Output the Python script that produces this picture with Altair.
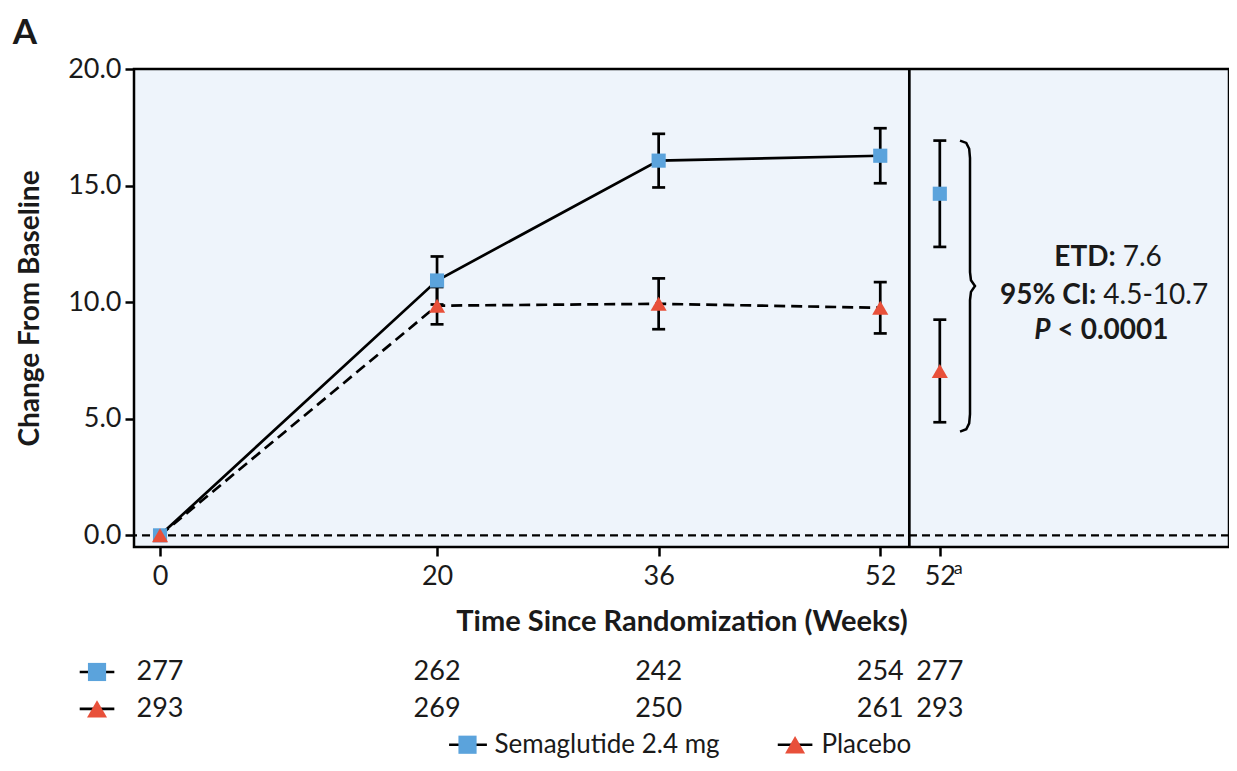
import altair as alt
import pandas as pd

# ---- data ----
weeks = [0, 20, 36, 52]
sema_mean = [0.0, 10.93, 16.07, 16.28]
sema_err = [0.0, 1.03, 1.15, 1.18]
plac_mean = [0.0, 9.85, 9.93, 9.76]
plac_err = [0.0, 0.80, 1.09, 1.10]

wk52a = 56.3
sema_52a_mean = 14.65
sema_52a_err = 2.28
plac_52a_mean = 7.05
plac_52a_err = 2.20

tick_values = [0, 20, 36, 52, 56.3]
sema_n = [277, 262, 242, 254, 277]
plac_n = [293, 269, 250, 261, 293]

BLUE = "#5BA3DC"
RED = "#E8503A"
INK = "#1a1a1a"
FONT = "Lato"

# ---- tables ----
lines = pd.DataFrame(
    [{"x": w, "y": m, "g": "Semaglutide 2.4 mg"} for w, m in zip(weeks, sema_mean)]
    + [{"x": w, "y": m, "g": "Placebo"} for w, m in zip(weeks, plac_mean)]
)

err_rows = []
for w, m, e in zip(weeks, sema_mean, sema_err):
    if e > 0:
        err_rows.append({"x": w, "lo": m - e, "hi": m + e})
for w, m, e in zip(weeks, plac_mean, plac_err):
    if e > 0:
        err_rows.append({"x": w, "lo": m - e, "hi": m + e})
err_rows.append({"x": wk52a, "lo": sema_52a_mean - sema_52a_err, "hi": sema_52a_mean + sema_52a_err})
err_rows.append({"x": wk52a, "lo": plac_52a_mean - plac_52a_err, "hi": plac_52a_mean + plac_52a_err})
errs = pd.DataFrame(err_rows)
caps = pd.concat([errs.assign(y=errs["lo"]), errs.assign(y=errs["hi"])])

sema_pts = pd.DataFrame({"x": weeks + [wk52a], "y": sema_mean + [sema_52a_mean]})
plac_pts = pd.DataFrame({"x": weeks + [wk52a], "y": plac_mean + [plac_52a_mean]})

# brace spanning the two 52a estimates
b_top = sema_52a_mean + sema_52a_err
b_bot = plac_52a_mean - plac_52a_err - 0.4
b_mid = (b_top + b_bot) / 2
bx0, bx1, bx2 = 57.76, 58.48, 58.84
brace = pd.DataFrame({
    "x": [bx0, bx0 + 0.45, bx1 - 0.06, bx1, bx1, bx1 + 0.07, bx2, bx1 + 0.07, bx1, bx1, bx1 - 0.06, bx0 + 0.45, bx0],
    "y": [b_top, b_top - 0.1, b_top - 0.35, b_top - 0.75, b_mid + 0.6, b_mid + 0.25, b_mid,
          b_mid - 0.25, b_mid - 0.6, b_bot + 0.75, b_bot + 0.35, b_bot + 0.1, b_bot],
})
brace["o"] = range(len(brace))

# ---- shared encodings ----
X = alt.X(
    "x:Q",
    scale=alt.Scale(domain=[-1.88, 77.18], nice=False, zero=False),
    axis=alt.Axis(
        values=tick_values,
        labelExpr="datum.value == 56.3 ? '52' : format(datum.value, 'd')",
        title="Time Since Randomization (Weeks)",
        titlePadding=18,
        labelPadding=7,
        tickSize=9,
    ),
)
Y = alt.Y(
    "y:Q",
    scale=alt.Scale(domain=[-0.5, 20], nice=False, zero=False),
    axis=alt.Axis(
        values=[0, 5, 10, 15, 20],
        format=".1f",
        title="Change From Baseline",
        titlePadding=23,
        titleFontSize=28,
        labelPadding=4,
        tickSize=9,
    ),
)

zero_line = alt.Chart(pd.DataFrame({"y": [0]})).mark_rule(
    color="black", strokeWidth=2.3, strokeDash=[8, 5]
).encode(y=Y)

separator = alt.Chart(pd.DataFrame({"x": [54.1]})).mark_rule(
    color="black", strokeWidth=2.7
).encode(x=X)

sema_line = alt.Chart(lines[lines.g == "Semaglutide 2.4 mg"]).mark_line(
    color="black", strokeWidth=2.7
).encode(x=X, y=Y, order="x:Q")
plac_line = alt.Chart(lines[lines.g == "Placebo"]).mark_line(
    color="black", strokeWidth=2.7, strokeDash=[11, 6]
).encode(x=X, y=Y, order="x:Q")

err_v = alt.Chart(errs).mark_rule(color="black", strokeWidth=2.7).encode(
    x=X, y=alt.Y("lo:Q", scale=alt.Scale(domain=[-0.5, 20], nice=False, zero=False)), y2="hi:Q"
)
err_c = alt.Chart(caps).mark_rule(color="black", strokeWidth=2.7, xOffset=-6.5, x2Offset=6.5).encode(
    x=X, x2=alt.X2("x:Q"), y=Y
)

sema_marks = alt.Chart(sema_pts).mark_point(
    shape="square", filled=True, color=BLUE, size=200, opacity=1
).encode(x=X, y=Y)
plac_marks = alt.Chart(plac_pts).mark_point(
    shape="triangle-up", filled=True, color=RED, size=260, opacity=1
).encode(x=X, y=Y)

brace_line = alt.Chart(brace).mark_line(color="black", strokeWidth=2.5).encode(
    x=X, y=Y, order="o:Q"
)

# annotation text (mixed weights)
ann = pd.DataFrame([
    {"x": 69.0, "y": 11.89, "t": "ETD:", "w": "bold", "s": "normal", "a": "right", "dx": 0},
    {"x": 69.0, "y": 11.89, "t": "7.6", "w": "normal", "s": "normal", "a": "left", "dx": 7},
    {"x": 67.6, "y": 10.26, "t": "95% CI:", "w": "bold", "s": "normal", "a": "right", "dx": 0},
    {"x": 67.6, "y": 10.26, "t": "4.5-10.7", "w": "normal", "s": "normal", "a": "left", "dx": 7},
    {"x": 64.3, "y": 8.76, "t": "P", "w": "bold", "s": "italic", "a": "right", "dx": 0},
    {"x": 64.3, "y": 8.76, "t": "< 0.0001", "w": "bold", "s": "normal", "a": "left", "dx": 7},
])
ann_layers = []
for _, r in ann.iterrows():
    ann_layers.append(
        alt.Chart(pd.DataFrame([r])).mark_text(
            font=FONT, fontSize=28, fontWeight=r["w"], fontStyle=r["s"],
            align=r["a"], baseline="middle", dx=int(r["dx"]), color=INK,
        ).encode(x=X, y=Y, text="t:N")
    )

# superscript on the 52a tick label
sup = alt.Chart(pd.DataFrame({"x": [wk52a], "y": [-1.45], "t": ["a"]})).mark_text(
    font=FONT, fontSize=18, align="left", baseline="middle", dx=14, color=INK
).encode(x=X, y=Y, text="t:N")

# panel letter
panel = alt.Chart(pd.DataFrame({"x": [-9.75], "y": [21.55], "t": ["A"]})).mark_text(
    font=FONT, fontSize=35, fontWeight="bold", align="center", baseline="middle", color=INK
).encode(x=X, y=Y, text="t:N")

# numbers at risk table
risk = pd.DataFrame(
    [{"x": v, "y": -5.86, "t": str(n)} for v, n in zip(tick_values, sema_n)]
    + [{"x": v, "y": -7.44, "t": str(n)} for v, n in zip(tick_values, plac_n)]
)
risk_text = alt.Chart(risk).mark_text(
    font=FONT, fontSize=27, align="center", baseline="middle", color=INK
).encode(x=X, y=Y, text="t:N")

# row markers and bottom legend keys
LEG_Y = -8.98
key_lines = pd.DataFrame({
    "x": [-5.8, -5.8, 20.87, 44.6],
    "x2": [-3.3, -3.3, 23.6, 47.1],
    "y": [-5.86, -7.44, LEG_Y, LEG_Y],
})
key_rules = alt.Chart(key_lines).mark_rule(color="black", strokeWidth=2.7).encode(
    x=X, x2="x2:Q", y=Y
)
key_sq = alt.Chart(pd.DataFrame({"x": [-4.55, 22.2], "y": [-5.86, LEG_Y]})).mark_point(
    shape="square", filled=True, color=BLUE, size=330, opacity=1
).encode(x=X, y=Y)
key_tri = alt.Chart(pd.DataFrame({"x": [-4.55, 45.85], "y": [-7.44, LEG_Y]})).mark_point(
    shape="triangle-up", filled=True, color=RED, size=400, opacity=1
).encode(x=X, y=Y)
legend_text = alt.Chart(pd.DataFrame({
    "x": [24.15, 47.75], "y": [LEG_Y, LEG_Y], "t": ["Semaglutide 2.4 mg", "Placebo"]
})).mark_text(
    font=FONT, fontSize=26, align="left", baseline="middle", color=INK
).encode(x=X, y=Y, text="t:N")

chart = alt.layer(
    zero_line, separator, sema_line, plac_line, err_v, err_c, brace_line,
    sema_marks, plac_marks, *ann_layers, sup, panel, risk_text,
    key_rules, key_sq, key_tri, legend_text,
).properties(
    width=1095, height=478,
    autosize=alt.AutoSizeParams(type="none"),
    padding={"left": 126, "top": 61, "right": 0, "bottom": 216},
).configure_view(
    fill="#EEF4FB", stroke="black", strokeWidth=2.5
).configure_axis(
    domain=False, grid=False, tickColor="black", tickWidth=2.5,
    labelFont=FONT, labelFontSize=27, labelColor=INK,
    titleFont=FONT, titleFontSize=29, titleFontWeight="bold", titleColor=INK,
)

chart.save("out.html", embed_options={"renderer": "svg", "actions": False})
